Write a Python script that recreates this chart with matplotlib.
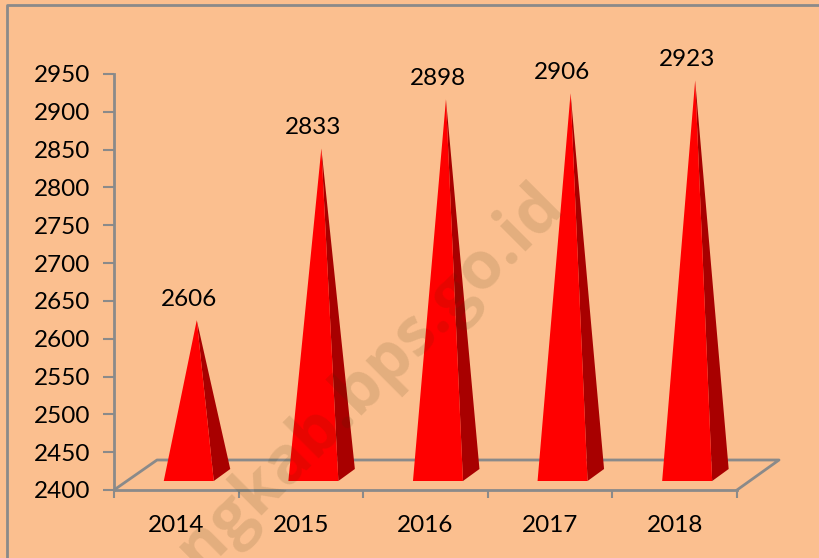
import matplotlib
matplotlib.use("Agg")
import matplotlib.pyplot as plt
from matplotlib.patches import Polygon
from matplotlib.lines import Line2D

years = ["2014", "2015", "2016", "2017", "2018"]
values = [2606, 2833, 2898, 2906, 2923]
yticks = list(range(2400, 2951, 50))

W, H = 820, 558
BG = "#FBBF8F"; GREY = "#8A8A8A"; FONT = "Lato"; FS = 17.5
fig = plt.figure(figsize=(W/100, H/100), dpi=100, facecolor=BG)
L, R, T, B = 114, 737, 74, 490
ax = fig.add_axes([L/W, 1-B/H, (R-L)/W, (B-T)/H], facecolor="none")
ax.set_xlim(0, 5); ax.set_ylim(2400, 2950)
pxx = 5/(R-L); pxy = 550/(B-T)
for s in ["top", "right"]:
    ax.spines[s].set_visible(False)
for s in ["left", "bottom"]:
    ax.spines[s].set_color(GREY); ax.spines[s].set_linewidth(2)
ax.set_yticks(yticks); ax.set_yticklabels([str(t) for t in yticks], fontsize=FS, fontfamily=FONT)
ax.set_xticks(range(6)); ax.set_xticklabels([""]*6)
ax.tick_params(axis="y", length=8, width=1.5, color=GREY, pad=9)
ax.tick_params(axis="x", length=6, width=1.5, color=GREY)

# floor lines
fl = [(0, 2400), (43*pxx, 2400+30*pxy), (5+42*pxx, 2400+30*pxy), (5, 2400)]
ax.add_line(Line2D(*zip(*fl), color=GREY, lw=2, clip_on=False, zorder=1))

for i, (yr, v) in enumerate(zip(years, values)):
    cx = i + 0.6
    hw = 25*pxx
    y0 = 2400 + 9*pxy
    dx, dy = 16.5*pxx, 12*pxy
    apex = (cx + 8*pxx, v + 14*pxy)
    fr = (cx+hw, y0); bk = (cx+hw+dx, y0+dy); fl0 = (cx-hw, y0)
    ax.add_patch(Polygon([fr, bk, apex], closed=True, fc="#A80000", ec="none", zorder=3, clip_on=False))
    ax.add_patch(Polygon([fl0, fr, apex], closed=True, fc="#FF0000", ec="none", zorder=3, clip_on=False))
    ax.text(apex[0]-0.065, v + 14*pxy + 10*pxy, str(v), ha="center", va="bottom", fontsize=FS, fontfamily=FONT, color="black", zorder=5)
    ax.text(i+0.5, 2400-36*pxy, yr, ha="center", va="center", fontsize=FS, fontfamily=FONT, color="black")

# outer frame
fig.add_artist(Line2D([7/W, 7/W, 1], [0, 1-5/H, 1-5/H], transform=fig.transFigure, color=GREY, lw=2))

# watermark
fig.text(356/W, 1-393/H, "ongkab.bps.go.id", rotation=45, rotation_mode="anchor",
         ha="center", va="center", fontsize=47.5, fontweight="bold", fontfamily="Open Sans",
         color="#333000", alpha=0.12, zorder=10)
fig.savefig("out.png", dpi=100, facecolor=BG)
